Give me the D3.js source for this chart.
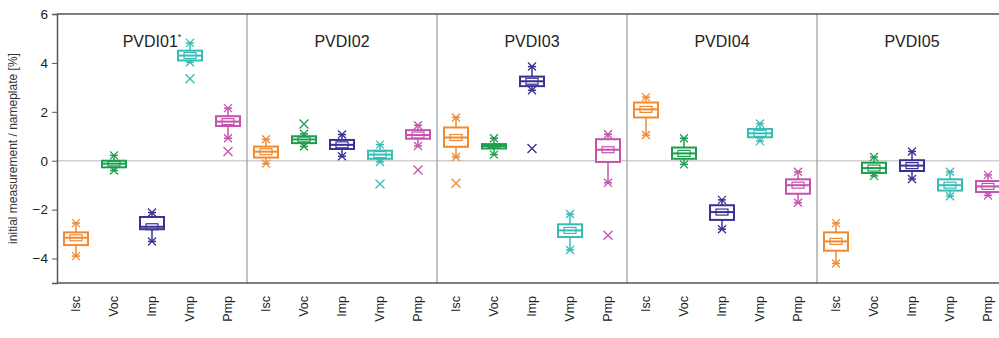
<!DOCTYPE html>
<html>
<head>
<meta charset="utf-8">
<script src="https://cdn.jsdelivr.net/npm/d3@7"></script>
<style>
  body { margin: 0; background: #fff; }
  svg { font-family: "Liberation Sans", Arial, sans-serif; }
</style>
</head>
<body>
<div id="chart"></div>
<script>
// modules and measured parameters
var modules = ["PVDI01", "PVDI02", "PVDI03", "PVDI04", "PVDI05"]
var params = ["Isc", "Voc", "Imp", "Vmp", "Pmp"]
var colors = ["#f28a30", "#1c9e4e", "#3a3095", "#35bdb4", "#c552ac"]
var yTicks = [-4, -2, 0, 2, 4, 6]

// [whisker low, q1, median, q3, whisker high] per module
var iscStats = [[-3.9, -3.45, -3.15, -2.93, -2.55], [-0.12, 0.13, 0.37, 0.58, 0.88], [0.15, 0.57, 0.95, 1.36, 1.77], [1.05, 1.77, 2.1, 2.38, 2.6], [-4.2, -3.68, -3.3, -2.93, -2.55]]
var vocStats = [[-0.4, -0.27, -0.12, 0, 0.22], [0.58, 0.72, 0.87, 1.0, 1.1], [0.25, 0.5, 0.6, 0.68, 0.92], [-0.15, 0.08, 0.3, 0.54, 0.92], [-0.62, -0.5, -0.3, -0.08, 0.15]]
var impStats = [[-3.3, -2.8, -2.7, -2.3, -2.12], [0.18, 0.48, 0.65, 0.85, 1.07], [2.88, 3.05, 3.25, 3.44, 3.85], [-2.8, -2.42, -2.1, -1.82, -1.6], [-0.75, -0.42, -0.2, 0.02, 0.38]]
var vmpStats = [[4.03, 4.1, 4.3, 4.5, 4.82], [-0.05, 0.08, 0.25, 0.41, 0.66], [-3.65, -3.12, -2.85, -2.6, -2.18], [0.8, 0.96, 1.12, 1.3, 1.52], [-1.45, -1.22, -1.0, -0.76, -0.45]]
var pmpStats = [[0.92, 1.42, 1.6, 1.82, 2.15], [0.6, 0.9, 1.05, 1.25, 1.45], [-0.9, -0.05, 0.45, 0.88, 1.08], [-1.72, -1.35, -1.0, -0.76, -0.45], [-1.42, -1.28, -1.05, -0.83, -0.58]]
var allStats = [iscStats, vocStats, impStats, vmpStats, pmpStats]

// outliers: [module index, parameter index, value]
var outliers = [[0, 3, 3.35], [0, 4, 0.38], [1, 1, 1.5], [1, 3, -0.95], [1, 4, -0.38], [2, 0, -0.92], [2, 2, 0.5], [2, 4, -3.05]]

var width = 999, height = 338
var margin = {top: 14, left: 57, bottom: 55}
var panelW = 190
var plotH = height - margin.top - margin.bottom

var svg = d3.select("#chart").append("svg")
  .attr("width", width)
  .attr("height", height)

var y = d3.scaleLinear().domain([-5, 6]).range([margin.top + plotH, margin.top])
var panelX = d3.scaleBand().domain(modules).range([margin.left, margin.left + panelW * modules.length])
var x = d3.scaleBand().domain(params).range([0, panelW])

// zero line
svg.append("line")
  .attr("x1", margin.left).attr("x2", width)
  .attr("y1", y(0)).attr("y2", y(0))
  .attr("stroke", "#cfcfcf").attr("stroke-width", 1.5)

// panel separators
svg.selectAll(".sep").data(modules.slice(1)).enter().append("line")
  .attr("x1", d => panelX(d)).attr("x2", d => panelX(d))
  .attr("y1", margin.top).attr("y2", margin.top + plotH)
  .attr("stroke", "#999").attr("stroke-width", 1.2)

// frame
svg.append("line").attr("x1", margin.left).attr("x2", width).attr("y1", margin.top).attr("y2", margin.top)
  .attr("stroke", "#555").attr("stroke-width", 1.5)
svg.append("line").attr("x1", margin.left).attr("x2", width).attr("y1", margin.top + plotH).attr("y2", margin.top + plotH)
  .attr("stroke", "#555").attr("stroke-width", 1.5)

var yAxis = svg.append("g")
  .attr("transform", "translate(" + margin.left + ",0)")
  .call(d3.axisLeft(y).tickValues(yTicks).tickSize(5).tickPadding(4).tickFormat(d3.format("d")))
yAxis.select(".domain").attr("stroke", "#555").attr("stroke-width", 1.5)
yAxis.selectAll(".tick line").attr("stroke", "#555")
yAxis.selectAll("text").attr("font-size", 13.5).attr("fill", "#222")

svg.append("text")
  .attr("transform", "translate(17," + (margin.top + plotH / 2) + ") rotate(-90)")
  .attr("text-anchor", "middle")
  .attr("font-size", 12).attr("fill", "#333")
  .text("initial measurement / nameplate [%]")

function xMark(g, cx, cy, s, color) {
  g.append("path")
    .attr("d", "M" + (cx - s) + "," + (cy - s) + "L" + (cx + s) + "," + (cy + s) + "M" + (cx - s) + "," + (cy + s) + "L" + (cx + s) + "," + (cy - s))
    .attr("stroke", color).attr("stroke-width", 1.3).attr("fill", "none")
}

modules.forEach(function(m, mi) {
  var g = svg.append("g").attr("transform", "translate(" + panelX(m) + ",0)")

  var title = g.append("text")
    .attr("x", panelW / 2).attr("y", 47)
    .attr("text-anchor", "middle")
    .attr("font-size", 16).attr("fill", "#222")
    .text(m)
  if (mi == 0) title.append("tspan").attr("dy", -7).attr("font-size", 9).text("*")

  params.forEach(function(p, pi) {
    var s = allStats[pi][mi]
    var c = colors[pi]
    var cx = x(p) + x.bandwidth() / 2
    var bw = 24
    // whiskers
    g.append("line").attr("x1", cx).attr("x2", cx).attr("y1", y(s[0])).attr("y2", y(s[1])).attr("stroke", c).attr("stroke-width", 1.5)
    g.append("line").attr("x1", cx).attr("x2", cx).attr("y1", y(s[3])).attr("y2", y(s[4])).attr("stroke", c).attr("stroke-width", 1.5)
    ;[s[0], s[4]].forEach(function(v) {
      g.append("line").attr("x1", cx - 4).attr("x2", cx + 4).attr("y1", y(v)).attr("y2", y(v)).attr("stroke", c).attr("stroke-width", 1.5)
      xMark(g, cx, y(v), 4, c)
    })
    // box
    g.append("rect")
      .attr("x", cx - bw / 2).attr("width", bw)
      .attr("y", y(s[3])).attr("height", y(s[1]) - y(s[3]))
      .attr("fill", "#fff").attr("stroke", c).attr("stroke-width", 2)
    // inner notch box
    var nh = Math.min(3, (y(s[1]) - y(s[3])) / 2 - 1)
    g.append("rect")
      .attr("x", cx - bw / 4).attr("width", bw / 2)
      .attr("y", y(s[2]) - nh).attr("height", nh * 2)
      .attr("fill", "none").attr("stroke", c).attr("stroke-width", 1.2)
    g.append("line")
      .attr("x1", cx - bw / 2).attr("x2", cx + bw / 2)
      .attr("y1", y(s[2])).attr("y2", y(s[2]))
      .attr("stroke", c).attr("stroke-width", 2)
  })

  // rotated category labels
  g.selectAll(".cat").data(params).enter().append("text")
    .attr("transform", d => "translate(" + (x(d) + x.bandwidth() / 2 + 4) + "," + (margin.top + plotH + 13) + ") rotate(-90)")
    .attr("text-anchor", "end")
    .attr("font-size", 12.5).attr("fill", "#222")
    .text(d => d)
})

outliers.forEach(function(o) {
  var cx = panelX(modules[o[0]]) + x(params[o[1]]) + x.bandwidth() / 2
  xMark(svg, cx, y(o[2]), 4.5, colors[o[1]])
})
</script>
</body>
</html>
